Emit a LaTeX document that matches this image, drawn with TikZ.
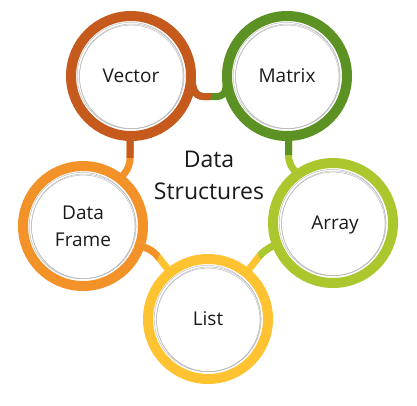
\documentclass[tikz,border=0pt]{standalone}
\usepackage{fontspec}
\setmainfont{Open Sans}
\usetikzlibrary{calc}
\definecolor{cvec}{RGB}{197,90,28}
\definecolor{cmat}{RGB}{91,146,35}
\definecolor{carr}{RGB}{170,199,46}
\definecolor{cdf}{RGB}{243,146,41}
\definecolor{clist}{RGB}{255,195,50}
\definecolor{ctext}{RGB}{26,26,26}
\newcommand\sketchring[1]{%
  \draw[sketch] ($(#1)+(0.8,0.3)$) circle[radius=52.3];
  \draw[sketch] ($(#1)+(-0.6,-0.4)$) circle[radius=53.2];
  \draw[sketch] ($(#1)+(0.2,0.9)$) circle[radius=51.8];}
\begin{document}
\begin{tikzpicture}[x=1pt,y=-1pt,
  ring/.style={circle,minimum size=120pt,line width=10pt,inner sep=0pt,
    text=ctext,font=\fontsize{19}{27}\selectfont,align=center},
  link/.style={line width=7pt,rounded corners=7pt},
  sketch/.style={gray!55,line width=0.45pt}]
\fill[white] (0,0) rectangle (417,405);
\useasboundingbox (0,0) rectangle (417,405);

\node[ring,draw=cvec]  (vec) at (131,76)  {Vector};
\node[ring,draw=cmat]  (mat) at (287,76)  {Matrix};
\node[ring,draw=cdf]   (df)  at (83,226)  {Data\\Frame};
\node[ring,draw=carr,text depth=0pt]  (arr) at (333,223) {\hspace*{4pt}Array};
\node[ring,draw=clist] (lst) at (208,319) {List};

\foreach \n in {vec,mat,df,arr,lst}{\sketchring{\n}}

% Vector -- Matrix
\draw[link,draw=cmat] ($(vec)+(60,4)$) -- ($(vec)+(65,20.5)$) -- ($(mat)+(-62.5,20.5)$) -- ($(mat)+(-60,4)$);
\begin{scope}
  \clip (vec) circle[radius=82.6];
  \draw[link,draw=cvec] ($(vec)+(60,4)$) -- ($(vec)+(65,20.5)$) -- ($(mat)+(-62.5,20.5)$) -- ($(mat)+(-60,4)$);
\end{scope}

% Vector -- Data Frame
\draw[link,draw=cdf] ($(vec)+(-1,62)$) -- ($(df)+(47,-60)$) -- ($(df)+(38,-48)$);
\begin{scope}
  \clip (vec) circle[radius=82];
  \draw[link,draw=cvec] ($(vec)+(-1,62)$) -- ($(df)+(47,-60)$) -- ($(df)+(38,-48)$);
\end{scope}

% Matrix -- Array
\draw[link,draw=carr] ($(mat)+(1.5,62)$) -- ($(arr)+(-44.5,-60)$) -- ($(arr)+(-35,-48)$);
\begin{scope}
  \clip (mat) circle[radius=79];
  \draw[link,draw=cmat] ($(mat)+(1.5,62)$) -- ($(arr)+(-44.5,-60)$) -- ($(arr)+(-35,-48)$);
\end{scope}

% Data Frame -- List
\draw[link,draw=clist,rounded corners=9pt] ($(df)+(52,19)$) -- ($(df)+(69,23)$) -- ($(lst)+(-38,-47)$);
\begin{scope}
  \clip (df) circle[radius=81.7];
  \draw[link,draw=cdf,rounded corners=9pt] ($(df)+(52,19)$) -- ($(df)+(69,23)$) -- ($(lst)+(-38,-47)$);
\end{scope}

% Array -- List
\draw[link,draw=clist,rounded corners=9pt] ($(arr)+(-52,20)$) -- ($(arr)+(-68,26)$) -- ($(lst)+(38,-46)$);
\begin{scope}
  \clip (arr) circle[radius=81];
  \draw[link,draw=carr,rounded corners=9pt] ($(arr)+(-52,20)$) -- ($(arr)+(-68,26)$) -- ($(lst)+(38,-46)$);
\end{scope}

\node[font=\fontsize{23}{32}\selectfont,align=center,text=ctext,inner sep=0pt] (title) at (209,175) {Data\\Structures};
\end{tikzpicture}
\end{document}
